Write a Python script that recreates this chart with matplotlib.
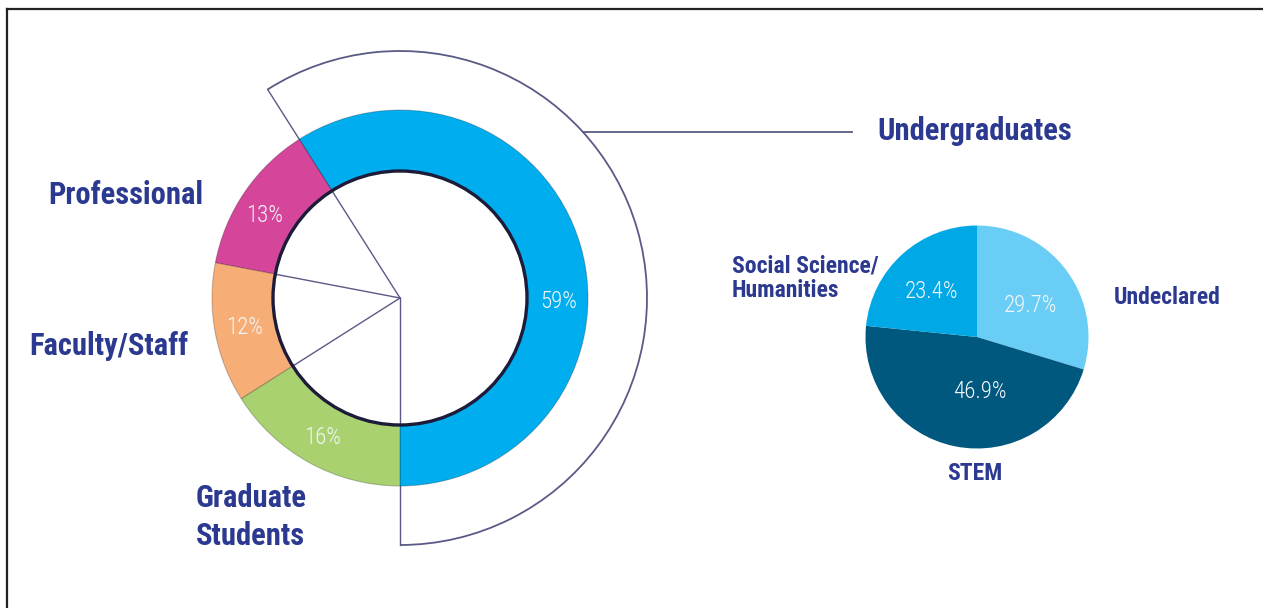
import numpy as np
import matplotlib.pyplot as plt
from matplotlib import font_manager
from matplotlib.patches import Arc, Circle

W, H = 1263, 608

# campus population (donut on the left)
groups = ['Undergraduates', 'Professional', 'Faculty/Staff', 'Graduate\nStudents']
shares = [59, 13, 12, 16]
group_colors = ['#00AEEF', '#D5469B', '#F7AE76', '#A9D16F']
share_labels = ['59%', '13%', '12%', '16%']

# undergraduate majors (pie on the right)
majors = ['Undeclared', 'STEM', 'Social Science/\nHumanities']
major_shares = [29.7, 46.9, 23.4]
major_colors = ['#6ACDF5', '#00587F', '#00A8E6']
major_labels = ['29.7%', '46.9%', '23.4%']

NAVY = '#2B3990'
LINE = '#5A5A86'

# pick a narrow face if one is installed
fonts = font_manager.fontManager.ttflist
names = {f.name for f in fonts}
FONT, STRETCH = 'DejaVu Sans', 'normal'
for cand in ['Liberation Sans Narrow', 'DejaVu Sans Condensed', 'Roboto Condensed',
             'Open Sans Condensed', 'Noto Sans Condensed']:
    if cand in names:
        FONT = cand
        break
else:
    if any(f.name == 'DejaVu Sans' and 'condensed' in str(f.stretch) for f in fonts):
        STRETCH = 'condensed'
NARROW = FONT != 'DejaVu Sans' or STRETCH == 'condensed'
scale = 1.0 if NARROW else 0.82


def fpos(x, y):
    # pixel position (from top-left) -> figure fraction
    return x / W, 1 - y / H


fig = plt.figure(figsize=(W / 100, H / 100), dpi=100)
ax = fig.add_axes([0, 0, 1, 1])

cx, cy = 400, H - 298
r_out, r_in, r_br = 188, 127, 247

ax.pie(shares, colors=group_colors, startangle=-90, counterclock=True,
       radius=r_out, center=(cx, cy), frame=True,
       wedgeprops=dict(width=r_out - r_in, edgecolor=(0, 0, 0, 0.22),
                       linewidth=0.8, zorder=2))

# slice boundaries in degrees, from 6 o'clock counterclockwise
edges = -90 + 360 * np.cumsum([0] + shares) / sum(shares)

# spokes: the undergrad slice edges reach out to the bracket, the others stop at the hole
for a, r in zip(edges[:4], [r_br, r_br, r_in, r_in]):
    t = np.radians(a)
    ax.plot([cx, cx + r * np.cos(t)], [cy, cy + r * np.sin(t)],
            color=LINE, lw=1, zorder=1)

ax.add_patch(Circle((cx, cy), r_in, fill=False, ec='#1C1C3A', lw=2.4, zorder=3))
ax.add_patch(Arc((cx, cy), 2 * r_br, 2 * r_br, theta1=edges[0], theta2=edges[1],
                 color=LINE, lw=1.3, zorder=1))

# leader from the bracket to the Undergraduates label
ly = H - 132
lx0 = cx + np.sqrt(r_br ** 2 - (ly - cy) ** 2)
ax.plot([lx0, 852], [ly, ly], color=LINE, lw=1.3)

# border along top and left
ax.plot([7, W], [H - 9, H - 9], color='#222222', lw=1.6)
ax.plot([7, 7], [0, H - 9], color='#222222', lw=1.6)

ax.set_xlim(0, W)
ax.set_ylim(0, H)
ax.set_aspect('auto')
ax.axis('off')

# right-hand pie
pcx, pcy, pr = 977, 337, 111.5
ax2 = fig.add_axes([(pcx - pr) / W, (H - pcy - pr) / H, 2 * pr / W, 2 * pr / H])
ax2.pie(major_shares, colors=major_colors, startangle=90, counterclock=False,
        radius=1, frame=True, wedgeprops=dict(edgecolor='none'))
ax2.set_xlim(-1, 1)
ax2.set_ylim(-1, 1)
ax2.set_aspect('auto')
ax2.axis('off')

pct = dict(color='#F2F7FA', family=FONT, stretch=STRETCH, fontweight='light',
           fontsize=16.5 * scale, ha='center', va='center')

share_pos = [(559, 302), (265, 215), (245, 327), (323, 438)]
for txt, (x, y) in zip(share_labels, share_pos):
    fig.text(*fpos(x, y), txt, **pct)

major_pos = [(1030, 306), (980, 392), (932, 292)]
for txt, (x, y) in zip(major_labels, major_pos):
    fig.text(*fpos(x, y), txt, **pct)

# category names
bold = dict(color=NAVY, family=FONT, stretch=STRETCH, fontweight='bold', va='center')
big, small = 22 * scale, 17 * scale
fig.text(*fpos(877, 131), groups[0], fontsize=big, ha='left', **bold)
fig.text(*fpos(203, 195), groups[1], fontsize=big, ha='right', **bold)
fig.text(*fpos(188, 346), groups[2], fontsize=big, ha='right', **bold)
fig.text(*fpos(196, 517), groups[3], fontsize=big, ha='left', linespacing=1.3, **bold)

fig.text(*fpos(1114, 298), majors[0], fontsize=small, ha='left', **bold)
fig.text(*fpos(975, 473), majors[1], fontsize=small, ha='center', **bold)
fig.text(*fpos(732, 278), majors[2], fontsize=small, ha='left', linespacing=1.1, **bold)

fig.savefig('out.png', dpi=100, facecolor='white')
